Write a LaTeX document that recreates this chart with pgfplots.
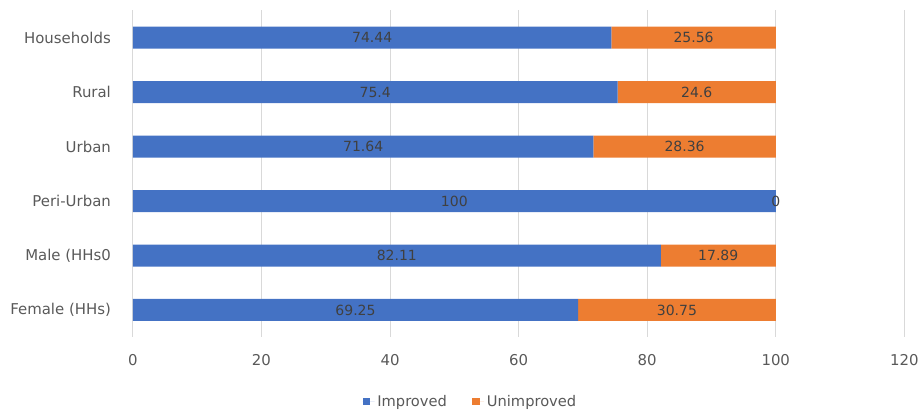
\documentclass[border=0pt]{standalone}
\usepackage{pgfplots}
\pgfplotsset{compat=1.18}
\usepackage{pgfplotstable}
\usepackage{fontspec}
\setmainfont{DejaVu Sans}
\definecolor{cblue}{HTML}{4472C4}
\definecolor{corange}{HTML}{ED7D31}
\definecolor{tgray}{HTML}{595959}
\definecolor{lgray}{HTML}{404040}
\definecolor{ggray}{HTML}{D9D9D9}

\pgfplotstableread{
y imp unimp
0 74.44 25.56
1 75.4 24.6
2 71.64 28.36
3 100 0
4 82.11 17.89
5 69.25 30.75
}\bars

\pgfplotstableread{
x y lab
37.22 0 74.44
87.22 0 25.56
37.7 1 75.4
87.7 1 24.6
35.82 2 71.64
85.82 2 28.36
50 3 100
100 3 0
41.055 4 82.11
91.055 4 17.89
34.625 5 69.25
84.625 5 30.75
}\labs

\begin{document}
\begin{tikzpicture}
\pgfplotsset{
  base/.style={
    at={(0,0)}, anchor=south west,
    scale only axis, width=579pt, height=245.25pt,
    xmin=0, xmax=120, ymin=-0.5, ymax=5.5, y dir=reverse,
    axis line style={draw=none},
    tick style={draw=none},
    font=\fontsize{11.2}{13}\selectfont,
    /pgf/number format/assume math mode=true,
  }
}
\begin{axis}[base,
  xbar stacked, bar width=16.5pt,
  xtick={0,20,...,120},
  xmajorgrids, grid style={ggray, line width=0.7pt},
  ytick={0,...,5},
  yticklabels={Households,Rural,Urban,Peri-Urban,Male (HHs0,Female (HHs)},
  ticklabel style={text=tgray},
  x tick label style={yshift=-9.6pt},
  y tick label style={xshift=-13pt},
  legend style={at={(0.438,-0.197)}, anchor=center, draw=none, fill=none,
    legend columns=2, text=tgray, font=\fontsize{11}{13}\selectfont,
    /tikz/every even column/.append style={column sep=17pt}},
  legend image code/.code={\fill[#1] (0pt,-2.7pt) rectangle (5.6pt,2.9pt);
    \path (0pt,0pt) -- (9pt,0pt);},
]
\addplot[fill=cblue, draw=none] table[x=imp, y=y] {\bars};
\addlegendentry{Improved}
\addplot[fill=corange, draw=none] table[x=unimp, y=y] {\bars};
\addlegendentry{Unimproved}
\end{axis}
\begin{axis}[base, xtick=\empty, ytick=\empty]
\addplot[draw=none, mark=none, nodes near coords, point meta=explicit symbolic,
  every node near coord/.append style={anchor=center, text=lgray, font=\fontsize{10.5}{12}\selectfont}]
  table[x=x, y=y, meta=lab] {\labs};
\end{axis}
\useasboundingbox (-99.75pt,-55.1pt) rectangle (592.5pt,253.1pt);
\end{tikzpicture}
\end{document}
